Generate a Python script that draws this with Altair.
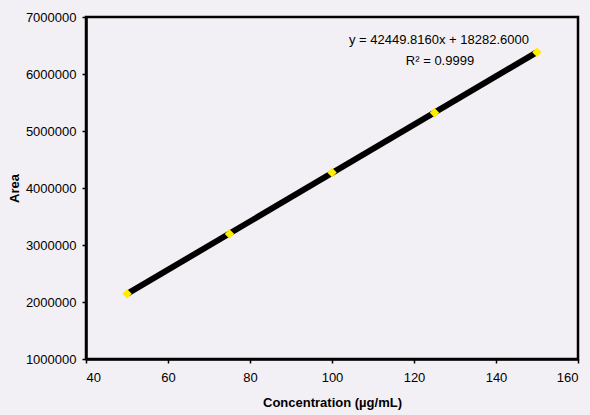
import altair as alt
import pandas as pd

conc = [50, 75, 100, 125, 150]
area = [2143000, 3195000, 4270000, 5322000, 6382000]
eq_lines = ["y = 42449.8160x + 18282.6000", "R² = 0.9999"]

df = pd.DataFrame({"conc": conc, "area": area})
FONT = "Liberation Sans"
BG = "#f3f0f5"

xs = alt.Scale(domain=[40, 160], nice=False, zero=False)
ys = alt.Scale(domain=[1000000, 7000000], nice=False, zero=False)

base = alt.Chart(df)

line = base.transform_regression("conc", "area", method="linear").mark_line(
    color="black", strokeWidth=6
).encode(
    x=alt.X("conc:Q", scale=xs, title="Concentration (µg/mL)",
            axis=alt.Axis(values=[40, 60, 80, 100, 120, 140, 160])),
    y=alt.Y("area:Q", scale=ys, title="Area",
            axis=alt.Axis(values=[1000000, 2000000, 3000000, 4000000, 5000000, 6000000, 7000000], format="d")),
)

pts = base.mark_point(shape="diamond", filled=True, color="#ffee00", size=90, opacity=1).encode(
    x=alt.X("conc:Q", scale=xs),
    y=alt.Y("area:Q", scale=ys),
)

t1 = alt.Chart(pd.DataFrame({"t": [eq_lines[0]]})).mark_text(
    font=FONT, fontSize=13, color="black", align="center", baseline="middle"
).encode(text="t:N", x=alt.value(353), y=alt.value(23))
t2 = alt.Chart(pd.DataFrame({"t": [eq_lines[1]]})).mark_text(
    font=FONT, fontSize=13, color="black", align="center", baseline="middle"
).encode(text="t:N", x=alt.value(354), y=alt.value(44))

chart = alt.layer(line, pts, t1, t2).properties(
    width=492, height=342,
    autosize=alt.AutoSizeParams(type="none"),
    padding={"left": 86, "top": 17, "right": 12, "bottom": 56},
    background=BG,
).configure_view(
    stroke="black", strokeWidth=2.5, fill=BG
).configure_axis(
    grid=False, domain=True, domainColor="black", domainWidth=2.5,
    ticks=True, tickColor="black", tickSize=4, tickWidth=1.5,
    labelFont=FONT, labelFontSize=13, labelColor="black",
    titleFont=FONT, titleFontSize=13, titleFontWeight="bold", titleColor="black",
).configure_axisX(
    labelPadding=8, titlePadding=12
).configure_axisY(
    labelPadding=6, titlePadding=4
)

chart.save("out.html", embed_options={"renderer": "svg", "actions": False})
